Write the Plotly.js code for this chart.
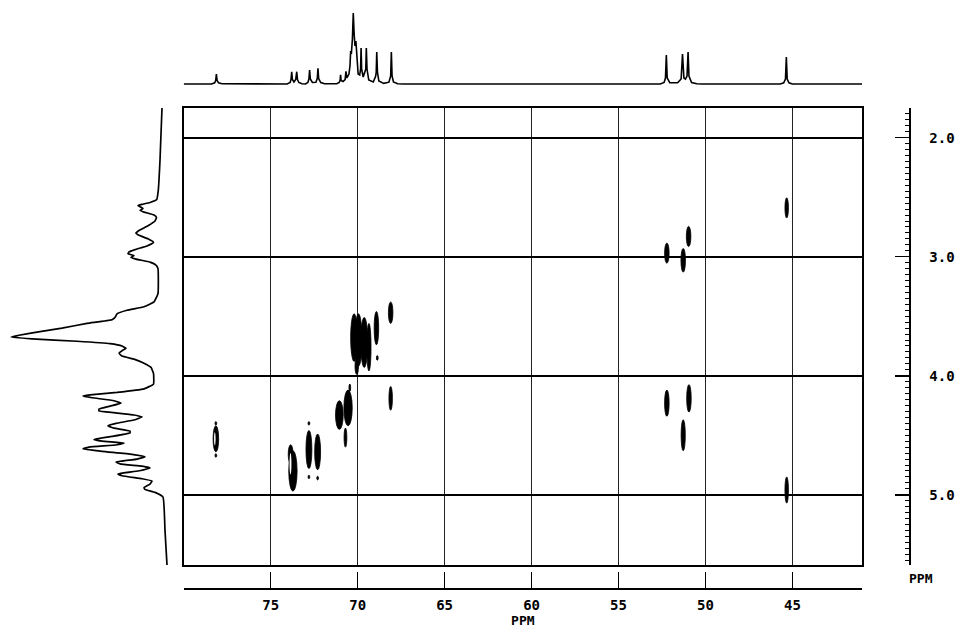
<!DOCTYPE html>
<html>
<head>
<meta charset="utf-8">
<script src="https://cdn.plot.ly/plotly-3.0.1.min.js"></script>
<style>html,body{margin:0;padding:0;background:#fff;}#chart{width:962px;height:642px;}</style>
</head>
<body>
<div id="chart"></div>
<script>
// 13C projection (top): chemical shift (ppm) and intensity
var topPpm = [80.0,
  78.40,78.22,78.16,78.12,78.08,78.00,77.80,
  74.05,73.88,73.83,73.79,73.75,73.66,73.56,73.50,73.46,73.38,73.20,
  73.00,72.86,72.80,72.76,72.72,72.60,72.40,72.32,72.28,72.24,72.12,71.90,
  71.20,71.06,71.01,70.98,70.95,70.84,70.72,70.67,70.62,70.50,70.44,70.40,70.36,70.30,70.25,70.20,70.15,70.10,70.05,69.97,69.88,69.83,69.80,69.77,69.68,69.56,69.53,69.50,69.46,69.36,69.10,68.96,68.93,68.90,68.86,68.78,68.50,68.20,68.10,68.06,68.02,67.94,67.70,67.40,
  52.60,52.38,52.30,52.25,52.20,52.05,51.60,51.40,51.32,51.24,51.15,51.06,51.00,50.95,50.80,50.50,50.20,
  45.70,45.50,45.40,45.35,45.30,45.20,45.00,41.00];
var topInt = [0,
  0,1.2,3.5,10,3.5,1.2,0.2,
  0,1.5,4.5,12.3,4.5,2,4.5,12.3,4.5,1.5,0.2,
  0,1.5,5,14,5,1.5,1.8,5.5,15.7,5.5,1.5,0.3,
  0.2,1.5,3.5,9.3,3.5,2.5,4.5,12.7,6,10,18,33,30,45,71,50,38,43,25,10,9,15,36,15,7,12,15,36,15,4,2,8,12,32,12,3,0.6,1.8,8,32,8,2,0.3,0,
  0,1.5,6,29,6,1.2,1.2,5,30,6,5,8,32,8,1.5,0.3,0,
  0,1.2,5,27,5,1.2,0,0];

// 1H projection (left): chemical shift (ppm) and intensity
var leftPpm = [1.75,2.19,2.44,2.52,2.545,2.56,2.57,2.58,2.595,2.61,2.625,2.65,2.67,2.70,2.74,2.78,2.80,2.82,2.85,2.88,2.91,2.94,2.96,2.975,2.99,3.005,3.02,3.045,3.07,3.10,3.31,3.38,3.42,3.45,3.48,3.51,3.53,3.56,3.60,3.63,3.66,3.675,3.69,3.71,3.73,3.75,3.77,3.79,3.81,3.835,3.86,3.89,3.93,3.98,4.07,4.11,4.14,4.16,4.17,4.185,4.21,4.23,4.255,4.28,4.295,4.31,4.33,4.345,4.37,4.40,4.42,4.44,4.465,4.48,4.51,4.535,4.55,4.565,4.58,4.60,4.615,4.635,4.66,4.68,4.70,4.725,4.74,4.76,4.775,4.80,4.825,4.84,4.865,4.885,4.91,4.94,4.955,4.98,5.02,5.30,5.59];
var leftInt = [0,2,3.7,5.3,12,20,24,22,19,22,18,8,5.5,7,14,23,26,23,14,8.5,15,27,33,34,28,31,26,12,6,4,4,8,18,35,45,47,50,75,100,122,143,151,130,85,52,40,36,40,43,40,28,19,11,8.5,8.5,18,45,72,79,70,48,41,52,63,63,48,28,20,27,46,54,48,32,32,50,68,60,38,45,73,79,60,30,17,25,46,42,20,12,24,44,40,20,10,12,18,17,7,-1,-3,-5];

// Cross peaks: 13C shift, 1H shift, half-width (13C ppm), half-height (1H ppm)
var peakC  = [78.15,78.15,78.15,73.72,73.85,72.80,72.30,72.80,72.80,72.30,71.05,70.55,70.70,70.45,70.20,69.95,69.62,69.35,70.05,68.92,68.87,68.10,68.10,52.22,51.28,50.97,52.22,50.95,51.28,45.33,45.33];
var peakH  = [4.53,4.40,4.67,4.80,4.66,4.62,4.64,4.40,4.85,4.86,4.33,4.27,4.52,4.10,3.68,3.70,3.72,3.76,3.92,3.60,3.85,3.47,4.19,2.97,3.03,2.83,4.23,4.19,4.50,2.59,4.96];
var peakHW = [0.16,0.05,0.05,0.24,0.14,0.17,0.17,0.05,0.05,0.05,0.22,0.24,0.08,0.05,0.20,0.20,0.20,0.12,0.10,0.13,0.05,0.13,0.10,0.13,0.13,0.13,0.13,0.13,0.12,0.10,0.10];
var peakHH = [0.11,0.015,0.015,0.17,0.08,0.16,0.15,0.015,0.015,0.015,0.12,0.15,0.08,0.03,0.20,0.22,0.21,0.20,0.07,0.14,0.02,0.09,0.10,0.085,0.10,0.085,0.11,0.115,0.13,0.085,0.11];
// Open (unfilled) contour interiors of some cross peaks
var holeC  = [78.21,73.86];
var holeH  = [4.53,4.74];
var holeHW = [0.045,0.055];
var holeHH = [0.055,0.09];

// Axis tick labels
var cTicks = [75,70,65,60,55,50,45];
var cTickText = ['75','70','65','60','55','50','45'];
var hTicks = [2,3,4,5];
var hTickText = ['2.0','3.0','4.0','5.0'];

var W = 962, H = 642;
function dx(p){return p/W;}
function dy(p){return 1-p/H;}

var xRange = [80.0, 41.0];
var yRange = [5.59, 1.748];
var mainXDom = [dx(183.7), dx(862)];
var mainYDom = [dy(565), dy(107.7)];

var labFont = {family:'DejaVu Sans Mono, monospace', size:14, color:'#000', weight:'bold'};

var traces = [
  {type:'scatter', mode:'lines', x:topPpm, y:topInt, xaxis:'x2', yaxis:'y2',
   line:{color:'#000', width:1.6}, hoverinfo:'skip', showlegend:false},
  {type:'scatter', mode:'lines', x:leftInt, y:leftPpm, xaxis:'x3', yaxis:'y3',
   line:{color:'#000', width:1.7, shape:'spline', smoothing:0.35}, hoverinfo:'skip', showlegend:false},
  {type:'scatter', mode:'markers', x:peakC, y:peakH, xaxis:'x', yaxis:'y',
   marker:{size:1, color:'rgba(0,0,0,0)'}, hoverinfo:'skip', showlegend:false},
  {type:'scatter', mode:'markers', x:[60], y:[3], xaxis:'x', yaxis:'y4',
   marker:{size:1, color:'rgba(0,0,0,0)'}, hoverinfo:'skip', showlegend:false},
  {type:'scatter', mode:'markers', x:[60], y:[3], xaxis:'x4', yaxis:'y',
   marker:{size:1, color:'rgba(0,0,0,0)'}, hoverinfo:'skip', showlegend:false}
];

var shapes = [];
for (var i = 0; i < peakC.length; i++) {
  shapes.push({type:'circle', xref:'x', yref:'y',
    x0: peakC[i]-peakHW[i], x1: peakC[i]+peakHW[i],
    y0: peakH[i]-peakHH[i], y1: peakH[i]+peakHH[i],
    fillcolor:'#000', line:{color:'#000', width:0.8}});
}
for (var j = 0; j < holeC.length; j++) {
  shapes.push({type:'circle', xref:'x', yref:'y',
    x0: holeC[j]-holeHW[j], x1: holeC[j]+holeHW[j],
    y0: holeH[j]-holeHH[j], y1: holeH[j]+holeHH[j],
    fillcolor:'#fff', line:{color:'#fff', width:0}});
}

var layout = {
  width: W, height: H,
  margin: {l:0, r:0, t:0, b:0},
  paper_bgcolor:'#fff', plot_bgcolor:'rgba(0,0,0,0)',
  showlegend:false,
  shapes: shapes,
  xaxis: {domain: mainXDom, range: xRange, anchor:'y',
    showgrid:true, gridcolor:'#222', gridwidth:1.2, tickmode:'array', tickvals:cTicks,
    showticklabels:false, ticks:'', zeroline:false,
    showline:true, mirror:true, linecolor:'#000', linewidth:1.5},
  yaxis: {domain: mainYDom, range: yRange, anchor:'x',
    showgrid:true, gridcolor:'#000', gridwidth:1.8, tickmode:'array', tickvals:hTicks,
    showticklabels:false, ticks:'', zeroline:false,
    showline:true, mirror:true, linecolor:'#000', linewidth:1.5},
  xaxis2: {domain: mainXDom, range: xRange, anchor:'y2', visible:false},
  yaxis2: {domain: [dy(86), dy(8)], range: [-2, 76], anchor:'x2', visible:false},
  xaxis3: {domain: [dx(2), dx(170)], range: [160, -8], anchor:'y3', visible:false},
  yaxis3: {domain: mainYDom, range: yRange, anchor:'x3', visible:false},
  yaxis4: {overlaying:'y', anchor:'free', position: dx(909), side:'right',
    range: yRange, tickmode:'array', tickvals:hTicks, ticktext:hTickText,
    ticks:'inside', ticklen:14, tickwidth:1.5, tickcolor:'#000',
    showline:true, linecolor:'#000', linewidth:1.5, showgrid:false, zeroline:false,
    tickfont: labFont, ticklabelstandoff: 16,
    minor:{tickmode:'linear', tick0:0, dtick:0.05, ticks:'inside', ticklen:4, tickcolor:'#000', tickwidth:1, showgrid:false}},
  xaxis4: {overlaying:'x', anchor:'free', position: dy(588), side:'bottom',
    range: xRange, tickmode:'array', tickvals:cTicks, ticktext:cTickText,
    ticks:'inside', ticklen:16, tickwidth:1.5, tickcolor:'#000',
    showline:true, linecolor:'#000', linewidth:1.5, showgrid:false, zeroline:false,
    tickfont: labFont, ticklabelstandoff: 4,
    title:{text:'PPM', font:{family:'DejaVu Sans Mono, monospace', size:13, color:'#000', weight:'bold'}, standoff:0}},
  annotations: [
    {xref:'paper', yref:'paper', x: dx(907), y: dy(578), text:'PPM', showarrow:false,
     xanchor:'left', yanchor:'middle',
     font:{family:'DejaVu Sans Mono, monospace', size:13, color:'#000', weight:'bold'}}
  ]
};

Plotly.newPlot('chart', traces, layout, {staticPlot:true, displayModeBar:false});
</script>
</body>
</html>
